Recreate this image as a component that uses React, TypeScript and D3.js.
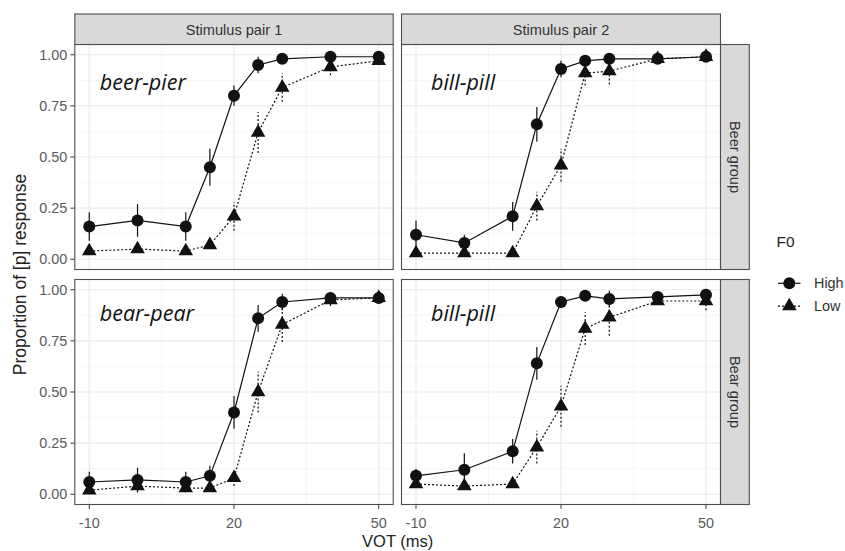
import React from 'react';
import * as d3 from 'd3';

// ---- data ----
const vot = [-10, 0, 10, 15, 20, 25, 30, 40, 50];
const xTicks = [-10, 20, 50];
const xMinor = [5, 35];
const yTicks = [0, 0.25, 0.5, 0.75, 1];
const yMinor = [0.125, 0.375, 0.625, 0.875];
const colLabels = ['Stimulus pair 1', 'Stimulus pair 2'];
const rowLabels = ['Beer group', 'Bear group'];
const wordPairs = ['beer-pier', 'bill-pill', 'bear-pear', 'bill-pill'];
const legendTitle = 'F0';
const legendLabels = ['High', 'Low'];

const beerPierHigh = [0.16, 0.19, 0.16, 0.45, 0.80, 0.95, 0.98, 0.99, 0.99];
const beerPierHighErr = [0.07, 0.08, 0.07, 0.09, 0.05, 0.04, 0.015, 0.01, 0.01];
const beerPierLow = [0.04, 0.05, 0.04, 0.07, 0.21, 0.62, 0.84, 0.94, 0.97];
const beerPierLowErr = [0.01, 0.015, 0.01, 0.015, 0.07, 0.10, 0.07, 0.04, 0.015];

const billPillBeerHigh = [0.12, 0.08, 0.21, 0.66, 0.93, 0.97, 0.98, 0.98, 0.99];
const billPillBeerHighErr = [0.07, 0.04, 0.07, 0.085, 0.04, 0.02, 0.015, 0.01, 0.01];
const billPillBeerLow = [0.03, 0.03, 0.03, 0.26, 0.46, 0.91, 0.92, 0.98, 0.99];
const billPillBeerLowErr = [0.01, 0.01, 0.01, 0.07, 0.08, 0.06, 0.065, 0.01, 0.01];

const bearPearHigh = [0.06, 0.07, 0.06, 0.09, 0.40, 0.86, 0.94, 0.96, 0.96];
const bearPearHighErr = [0.05, 0.06, 0.05, 0.05, 0.08, 0.065, 0.04, 0.015, 0.01];
const bearPearLow = [0.02, 0.04, 0.03, 0.03, 0.08, 0.50, 0.83, 0.95, 0.96];
const bearPearLowErr = [0.01, 0.03, 0.01, 0.01, 0.04, 0.10, 0.085, 0.03, 0.015];

const billPillBearHigh = [0.09, 0.12, 0.21, 0.64, 0.94, 0.97, 0.955, 0.965, 0.975];
const billPillBearHighErr = [0.035, 0.08, 0.06, 0.08, 0.02, 0.015, 0.04, 0.015, 0.02];
const billPillBearLow = [0.05, 0.04, 0.05, 0.23, 0.43, 0.81, 0.865, 0.945, 0.945];
const billPillBearLowErr = [0.01, 0.01, 0.01, 0.08, 0.10, 0.08, 0.09, 0.02, 0.045];

const panelsData = [
  { high: beerPierHigh, highErr: beerPierHighErr, low: beerPierLow, lowErr: beerPierLowErr },
  { high: billPillBeerHigh, highErr: billPillBeerHighErr, low: billPillBeerLow, lowErr: billPillBeerLowErr },
  { high: bearPearHigh, highErr: bearPearHighErr, low: bearPearLow, lowErr: bearPearLowErr },
  { high: billPillBearHigh, highErr: billPillBearHighErr, low: billPillBearLow, lowErr: billPillBearLowErr },
];

// ---- layout ----
const W = 845;
const H = 551;
const colX = [
  [74.8, 393.2],
  [401.5, 720.5],
];
const rowY = [
  [44.5, 269.5],
  [279.5, 504.5],
];
const stripTop = 14;
const stripRightX1 = 749.3;
const FONT = '"Liberation Sans", Arial, sans-serif';
const BORDER = '#4d4d4d';
const STRIP_FILL = '#d9d9d9';
const TICK_TEXT = '#5a5a5a';
const DOTTED = '2 2';
const CIRCLE_R = 6;

const triPath = d3.symbol().type(d3.symbolTriangle).size(92)() as string;

function Panel({ idx }: { idx: number }) {
  const r = Math.floor(idx / 2);
  const c = idx % 2;
  const [x0, x1] = colX[c];
  const [y0, y1] = rowY[r];
  const x = d3.scaleLinear().domain([-13, 53]).range([x0, x1]);
  const y = d3.scaleLinear().domain([-0.05, 1.05]).range([y1, y0]);
  const d = panelsData[idx];
  const line = d3
    .line<number>()
    .x((_, i) => x(vot[i]))
    .y((v) => y(v));

  const series = [
    { vals: d.high, err: d.highErr, dash: undefined as string | undefined, shape: 'circle' },
    { vals: d.low, err: d.lowErr, dash: DOTTED, shape: 'tri' },
  ];

  return (
    <g>
      <rect x={x0} y={y0} width={x1 - x0} height={y1 - y0} fill="#fff" />
      {yMinor.map((t) => (
        <line key={'ym' + t} x1={x0} x2={x1} y1={y(t)} y2={y(t)} stroke="#f2f2f2" strokeWidth={0.7} />
      ))}
      {xMinor.map((t) => (
        <line key={'xm' + t} x1={x(t)} x2={x(t)} y1={y0} y2={y1} stroke="#f2f2f2" strokeWidth={0.7} />
      ))}
      {yTicks.map((t) => (
        <line key={'yg' + t} x1={x0} x2={x1} y1={y(t)} y2={y(t)} stroke="#ebebeb" strokeWidth={1.2} />
      ))}
      {xTicks.map((t) => (
        <line key={'xg' + t} x1={x(t)} x2={x(t)} y1={y0} y2={y1} stroke="#ebebeb" strokeWidth={1.2} />
      ))}
      {series.map((s, si) => (
        <g key={si}>
          {s.vals.map((v, i) => (
            <line
              key={'e' + i}
              x1={x(vot[i])}
              x2={x(vot[i])}
              y1={y(v - s.err[i])}
              y2={y(v + s.err[i])}
              stroke="#111"
              strokeWidth={1.2}
              strokeDasharray={s.dash}
            />
          ))}
          <path d={line(s.vals) as string} fill="none" stroke="#111" strokeWidth={1.2} strokeDasharray={s.dash} />
          {s.vals.map((v, i) =>
            s.shape === 'circle' ? (
              <circle key={'p' + i} cx={x(vot[i])} cy={y(v)} r={CIRCLE_R} fill="#111" />
            ) : (
              <path key={'p' + i} d={triPath} transform={`translate(${x(vot[i])},${y(v)})`} fill="#111" />
            )
          )}
        </g>
      ))}
      <rect x={x0} y={y0} width={x1 - x0} height={y1 - y0} fill="none" stroke={BORDER} strokeWidth={1.1} />
      <text
        x={x0 + (c === 0 ? 25 : 29.5)}
        y={y0 + (r === 0 ? 45 : 41)}
        fontFamily='"Open Sans", "Noto Sans", sans-serif'
        fontStyle="italic"
        fontSize={21.5}
        fill="#111"
      >
        {wordPairs[idx]}
      </text>
      {c === 0 &&
        yTicks.map((t) => (
          <g key={'yt' + t}>
            <line x1={x0 - 4.5} x2={x0} y1={y(t)} y2={y(t)} stroke={BORDER} strokeWidth={1.1} />
            <text
              x={x0 - 7.5}
              y={y(t)}
              dy="0.36em"
              textAnchor="end"
              fontFamily={FONT}
              fontSize={14.4}
              fill={TICK_TEXT}
            >
              {d3.format('.2f')(t)}
            </text>
          </g>
        ))}
      {r === 1 &&
        xTicks.map((t) => (
          <g key={'xt' + t}>
            <line x1={x(t)} x2={x(t)} y1={y1} y2={y1 + 4.5} stroke={BORDER} strokeWidth={1.1} />
            <text x={x(t)} y={527.5} textAnchor="middle" fontFamily={FONT} fontSize={14.4} fill={TICK_TEXT}>
              {t}
            </text>
          </g>
        ))}
      {r === 0 && (
        <g>
          <rect x={x0} y={stripTop} width={x1 - x0} height={y0 - stripTop} fill={STRIP_FILL} stroke={BORDER} strokeWidth={1.1} />
          <text
            x={(x0 + x1) / 2}
            y={(stripTop + y0) / 2}
            dy="0.36em"
            textAnchor="middle"
            fontFamily={FONT}
            fontSize={14.6}
            fill="#333"
          >
            {colLabels[c]}
          </text>
        </g>
      )}
      {c === 1 && (
        <g>
          <rect x={x1} y={y0} width={stripRightX1 - x1} height={y1 - y0} fill={STRIP_FILL} stroke={BORDER} strokeWidth={1.1} />
          <text
            transform={`translate(${(x1 + stripRightX1) / 2},${(y0 + y1) / 2}) rotate(90)`}
            dy="0.36em"
            textAnchor="middle"
            fontFamily={FONT}
            fontSize={14.6}
            fill="#333"
          >
            {rowLabels[r]}
          </text>
        </g>
      )}
    </g>
  );
}

export default function App() {
  return (
    <svg
      width={W}
      height={H}
      viewBox={`0 0 ${W} ${H}`}
      style={{ position: 'absolute', left: 0, top: 0, background: '#fff' }}
    >
      <rect x={0} y={0} width={W} height={H} fill="#fff" />
      {[0, 1, 2, 3].map((i) => (
        <Panel key={i} idx={i} />
      ))}
      <text x={(colX[0][0] + colX[1][1]) / 2} y={546.5} textAnchor="middle" fontFamily={FONT} fontSize={16.5} fill="#222">
        VOT (ms)
      </text>
      <text
        transform={`translate(26,${(rowY[0][0] + rowY[1][1]) / 2}) rotate(-90)`}
        textAnchor="middle"
        fontFamily={FONT}
        fontSize={17.5}
        fill="#222"
      >
        Proportion of [p] response
      </text>
      <g>
        <text x={776.5} y={247} fontFamily={FONT} fontSize={15.5} fill="#222">
          {legendTitle}
        </text>
        {legendLabels.map((lab, i) => {
          const ky = 283.3 + i * 22.8;
          return (
            <g key={lab}>
              <line
                x1={778}
                x2={800.5}
                y1={ky}
                y2={ky}
                stroke="#111"
                strokeWidth={1.2}
                strokeDasharray={i === 1 ? DOTTED : undefined}
              />
              {i === 0 ? (
                <circle cx={789.3} cy={ky} r={CIRCLE_R} fill="#111" />
              ) : (
                <path d={triPath} transform={`translate(789.3,${ky})`} fill="#111" />
              )}
              <text x={814} y={ky} dy="0.36em" fontFamily={FONT} fontSize={14.4} fill="#333">
                {lab}
              </text>
            </g>
          );
        })}
      </g>
    </svg>
  );
}
